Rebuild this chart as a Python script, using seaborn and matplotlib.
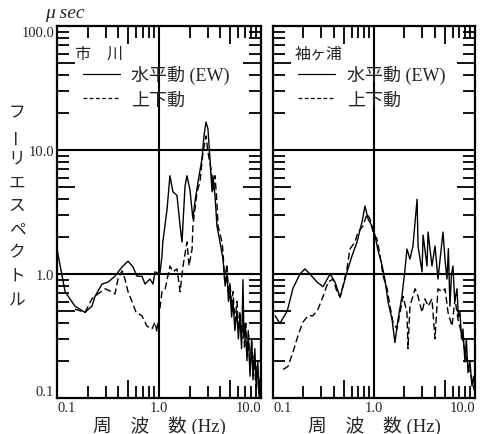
import matplotlib
matplotlib.use("Agg")
import matplotlib.pyplot as plt
from matplotlib.lines import Line2D
from matplotlib.ticker import FixedLocator, FuncFormatter
import numpy as np
import pandas as pd
import seaborn as sns

# sites / components
sites = ["市　川", "袖ヶ浦"]
components = ["水平動 (EW)", "上下動"]

# 市川, horizontal (EW)
ichikawa_ew_freq = [0.100, 0.120, 0.150, 0.188, 0.220, 0.236, 0.276, 0.316, 0.370, 0.434,
                    0.497, 0.556, 0.608, 0.681, 0.729, 0.816, 0.873, 0.914, 1.02, 1.07,
                    1.09, 1.20, 1.28, 1.37, 1.50, 1.61, 1.68, 1.80, 1.88, 2.01,
                    2.15, 2.25, 2.41, 2.64, 2.76, 2.89, 3.02, 3.16, 3.31, 3.38,
                    3.54, 3.70, 3.96, 4.24, 4.45, 4.64, 4.80, 4.97, 5.15, 5.31,
                    5.55, 5.82, 6.00, 6.22, 6.45, 6.66, 6.80, 7.00, 7.29, 7.50,
                    7.80, 8.10, 8.35, 8.70, 9.00, 9.30, 9.60, 9.90]
ichikawa_ew_amp = [1.59, 0.72, 0.55, 0.49, 0.55, 0.66, 0.83, 0.86, 0.96, 1.14,
                   1.27, 1.14, 0.96, 0.96, 0.83, 0.91, 0.83, 1.04, 1.00, 1.40,
                   1.81, 3.34, 6.2, 4.6, 4.3, 2.44, 1.81, 5.1, 6.2, 4.8,
                   2.78, 3.8, 5.5, 8.5, 13.0, 16.8, 14.8, 8.5, 4.6, 6.2,
                   4.3, 2.44, 1.81, 1.32, 0.80, 1.00, 0.60, 0.75, 0.45, 0.60,
                   0.35, 0.50, 0.30, 0.45, 0.25, 0.90, 0.30, 0.40, 0.20, 0.35,
                   0.15, 0.30, 0.14, 0.25, 0.12, 0.20, 0.10, 0.15]

# 市川, vertical (UD)
ichikawa_ud_freq = [0.150, 0.188, 0.220, 0.252, 0.296, 0.331, 0.370, 0.396, 0.434, 0.464,
                    0.497, 0.543, 0.596, 0.681, 0.762, 0.853, 0.914, 0.955, 1.07, 1.15,
                    1.28, 1.37, 1.50, 1.61, 1.72, 1.88, 1.97, 2.11, 2.15, 2.36,
                    2.52, 2.70, 2.89, 3.02, 3.24, 3.38, 3.54, 3.70, 3.79, 4.15,
                    4.24, 4.40, 4.64, 4.80, 4.97, 5.15, 5.31, 5.55, 5.82, 6.00,
                    6.22, 6.45, 6.66, 6.90, 7.10, 7.29, 7.55, 7.80, 8.10, 8.35,
                    8.60, 8.90, 9.20, 9.50, 9.78, 10.0]
ichikawa_ud_amp = [0.52, 0.49, 0.63, 0.69, 0.76, 0.73, 0.69, 0.91, 1.06, 0.91,
                   0.72, 0.60, 0.49, 0.46, 0.38, 0.36, 0.41, 0.34, 0.72, 0.76,
                   1.16, 1.04, 1.10, 0.72, 1.16, 1.81, 1.16, 1.59, 2.44, 4.6,
                   5.5, 9.6, 13.0, 9.6, 7.0, 4.6, 6.2, 3.8, 2.44, 1.81,
                   1.50, 0.90, 1.20, 0.70, 0.86, 0.55, 0.72, 0.42, 0.60, 0.35,
                   0.50, 0.30, 0.46, 0.25, 0.40, 0.22, 0.32, 0.17, 0.28, 0.15,
                   0.22, 0.12, 0.18, 0.11, 0.14, 0.10]

# 袖ヶ浦, horizontal (EW)
sodegaura_ew_freq = [0.105, 0.117, 0.138, 0.158, 0.185, 0.207, 0.232, 0.273, 0.313, 0.367,
                     0.411, 0.461, 0.493, 0.540, 0.606, 0.679, 0.761, 0.815, 0.873, 0.955,
                     1.02, 1.10, 1.20, 1.28, 1.38, 1.51, 1.61, 1.73, 1.89, 2.03,
                     2.12, 2.27, 2.43, 2.67, 2.73, 2.99, 3.06, 3.35, 3.43, 3.75,
                     4.02, 4.30, 4.82, 5.05, 5.28, 5.45, 5.65, 5.85, 6.05, 6.30,
                     6.63, 6.85, 7.10, 7.35, 7.60, 7.80, 7.96, 8.20, 8.53, 8.90,
                     9.33, 9.70, 10.0]
sodegaura_ew_amp = [0.46, 0.40, 0.50, 0.77, 1.00, 1.10, 1.00, 0.86, 0.79, 1.00,
                    0.86, 0.65, 0.79, 1.04, 1.40, 1.81, 2.63, 3.54, 2.78, 2.44,
                    2.06, 1.53, 1.18, 0.91, 0.59, 0.43, 0.28, 0.43, 0.66, 1.10,
                    1.59, 1.32, 1.68, 4.0, 1.68, 1.04, 2.06, 1.16, 2.18, 1.16,
                    1.68, 0.91, 2.18, 1.30, 0.91, 1.60, 0.55, 1.00, 1.16, 0.60,
                    0.76, 0.45, 0.49, 0.30, 0.36, 0.25, 0.195, 0.30, 0.16, 0.20,
                    0.125, 0.15, 0.11]

# 袖ヶ浦, vertical (UD)
sodegaura_ud_freq = [0.126, 0.141, 0.158, 0.177, 0.198, 0.222, 0.249, 0.279, 0.313, 0.351,
                     0.393, 0.430, 0.461, 0.493, 0.540, 0.578, 0.648, 0.694, 0.778, 0.853,
                     0.913, 0.978, 1.07, 1.15, 1.23, 1.35, 1.44, 1.54, 1.69, 1.81,
                     1.94, 2.12, 2.17, 2.27, 2.55, 2.73, 2.99, 3.20, 3.43, 3.75,
                     4.02, 4.30, 4.71, 5.05, 5.41, 5.92, 6.34, 6.79, 7.43, 7.96,
                     8.53, 9.33, 10.0]
sodegaura_ud_amp = [0.17, 0.18, 0.235, 0.32, 0.41, 0.46, 0.46, 0.52, 0.66, 0.86,
                    0.91, 0.72, 0.65, 0.80, 1.10, 1.59, 1.81, 2.18, 2.44, 3.05,
                    2.78, 2.18, 1.91, 1.40, 0.96, 0.76, 0.55, 0.41, 0.36, 0.49,
                    0.66, 0.49, 0.25, 0.55, 0.76, 0.66, 0.49, 0.63, 0.55, 0.63,
                    0.30, 0.76, 0.72, 0.76, 0.49, 0.38, 0.63, 0.43, 0.32, 0.235,
                    0.18, 0.14, 0.11]

y_decades = [0.1, 1, 10, 100]

sns.set_style("ticks")
plt.rcParams["font.family"] = ["Liberation Serif", "Noto Sans CJK JP"]

series = [
    (sites[0], components[0], ichikawa_ew_freq, ichikawa_ew_amp),
    (sites[0], components[1], ichikawa_ud_freq, ichikawa_ud_amp),
    (sites[1], components[0], sodegaura_ew_freq, sodegaura_ew_amp),
    (sites[1], components[1], sodegaura_ud_freq, sodegaura_ud_amp),
]
df = pd.concat([pd.DataFrame({"site": s, "component": c, "freq": f, "amp": a})
                for s, c, f, a in series], ignore_index=True)

fig = plt.figure(figsize=(4.8, 4.35), dpi=100)
ax_left = fig.add_axes([57 / 480, 36 / 435, 204 / 480, 372 / 435])
ax_right = fig.add_axes([273 / 480, 36 / 435, 202 / 480, 372 / 435])

dash_map = {components[0]: "", components[1]: (5, 2.5)}


def fmt(v, pos):
    for d in y_decades:
        if np.isclose(v, d):
            return f"{v:.1f}"
    return ""


def style_axis(ax, site, show_y, title_x):
    sub = df[df["site"] == site]
    sns.lineplot(data=sub, x="freq", y="amp", style="component", dashes=dash_map,
                 color="black", linewidth=1.0, estimator=None, sort=False,
                 legend=False, ax=ax, zorder=3)
    ax.set_xscale("log")
    ax.set_yscale("log")
    ax.set_xlim(0.1, 10)
    ax.set_ylim(0.1, 100)
    ax.axhline(1, color="black", lw=1.5, zorder=2)
    ax.axhline(10, color="black", lw=1.5, zorder=2)
    ax.axvline(1, color="black", lw=1.5, zorder=2)

    ax.xaxis.set_major_locator(FixedLocator([0.1, 0.5, 1, 5, 10]))
    ax.xaxis.set_minor_locator(FixedLocator([0.2, 0.3, 0.4, 0.6, 0.7, 0.8, 0.9,
                                             2, 3, 4, 6, 7, 8, 9]))
    ax.yaxis.set_major_locator(FixedLocator([0.1, 0.5, 1, 5, 10, 50, 100]))
    ax.yaxis.set_minor_locator(FixedLocator([0.2, 0.3, 0.4, 0.6, 0.7, 0.8, 0.9,
                                             2, 3, 4, 6, 7, 8, 9,
                                             20, 30, 40, 60, 70, 80, 90]))
    ax.xaxis.set_major_formatter(FuncFormatter(fmt))
    ax.yaxis.set_major_formatter(FuncFormatter(fmt))
    ax.xaxis.set_minor_formatter(FuncFormatter(lambda v, p: ""))
    ax.yaxis.set_minor_formatter(FuncFormatter(lambda v, p: ""))
    ax.tick_params(which="both", direction="in", top=True, right=True,
                   width=1.3, color="black", labelsize=10.5)
    ax.tick_params(which="major", length=13, pad=2)
    ax.tick_params(which="minor", length=8.5)
    ax.tick_params(axis="y", labelleft=show_y)
    for s in ax.spines.values():
        s.set_linewidth(1.6)
        s.set_color("black")

    ticks = ax.xaxis.get_major_ticks()
    ticks[0].label1.set_horizontalalignment("left")
    ticks[-1].label1.set_horizontalalignment("right")
    yt = ax.yaxis.get_major_ticks()
    yt[0].label1.set_verticalalignment("bottom")
    yt[-1].label1.set_verticalalignment("top")

    ax.set_xlabel("周　波　数 (Hz)", fontsize=13.5, labelpad=1)
    ax.set_ylabel("")
    ax.text(title_x, 0.946, site, transform=ax.transAxes, fontsize=11.5,
            ha="left", va="top")
    handles = [Line2D([], [], color="black", lw=0.9),
               Line2D([], [], color="black", lw=0.9, dashes=(3, 2))]
    ax.legend(handles, components, loc="upper left",
              bbox_to_anchor=(0.125, 0.895), frameon=False, fontsize=13,
              handlelength=2.05, handletextpad=0.65, labelspacing=0.4,
              borderpad=0, borderaxespad=0)


style_axis(ax_left, sites[0], True, 0.088)
style_axis(ax_right, sites[1], False, 0.109)

# vertical y-axis title
for i, ch in enumerate("フーリエスペクトル"):
    fig.text(17 / 480, 1 - (113 + 23.4 * i) / 435, ch,
             rotation=90 if ch == "ー" else 0,
             ha="center", va="center", fontsize=12)

fig.text(45 / 480, 1 - 14 / 435, "μ sec", style="italic", fontsize=14,
         ha="left", va="center")

fig.savefig("out.png", dpi=100)
